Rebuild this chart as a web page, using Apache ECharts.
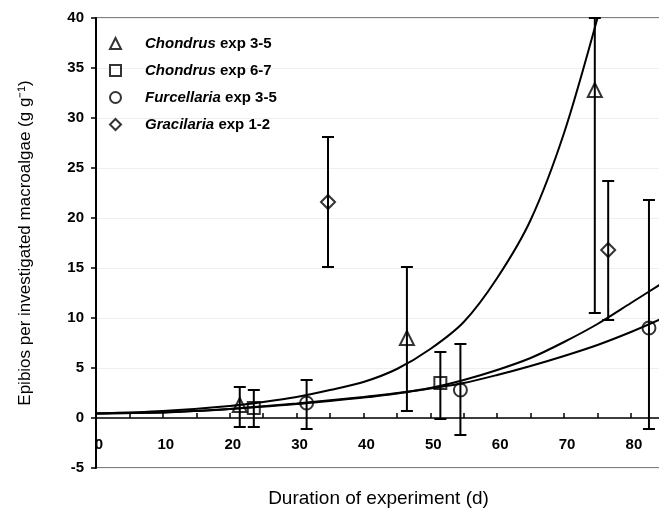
<!DOCTYPE html>
<html><head><meta charset="utf-8">
<script src="https://cdn.jsdelivr.net/npm/echarts@6/dist/echarts.min.js"></script>
<style>html,body{margin:0;padding:0;background:#fff}#c{width:659px;height:513px}</style>
</head><body><div id="c"></div>
<script>
// Chondrus exp 3-5 (triangles)
const chondrus35X  = [21.5, 46.5, 74.6];
const chondrus35Y  = [1.3, 8.0, 32.8];
const chondrus35Lo = [-0.9, 0.7, 10.5];
const chondrus35Hi = [3.1, 15.1, 40];
// Chondrus exp 6-7 (squares)
const chondrus67X  = [23.6, 51.5];
const chondrus67Y  = [1.0, 3.5];
const chondrus67Lo = [-0.9, -0.1];
const chondrus67Hi = [2.8, 6.6];
// Furcellaria exp 3-5 (circles)
const furcX  = [31.5, 54.5, 82.7];
const furcY  = [1.5, 2.8, 9.0];
const furcLo = [-1.1, -1.7, -1.1];
const furcHi = [3.8, 7.4, 21.8];
// Gracilaria exp 1-2 (diamonds)
const gracX  = [34.7, 76.6];
const gracY  = [21.6, 16.8];
const gracLo = [15.1, 9.8];
const gracHi = [28.1, 23.7];
// fitted curves
const curveSteepX = [0, 10, 20, 25, 30, 35, 40, 45, 50, 55, 60, 65, 70, 75];
const curveSteepY = [0.45, 0.7, 1.2, 1.6, 2.1, 2.8, 3.6, 4.9, 6.9, 9.6, 14.0, 19.8, 28.5, 40];
const curveMidX = [0, 10, 15, 20, 30, 40, 44, 50, 55, 60, 65, 70, 75, 80, 84.5];
const curveMidY = [0.45, 0.55, 0.7, 0.9, 1.45, 2.1, 2.4, 3.0, 3.8, 4.8, 6.0, 7.6, 9.4, 11.5, 13.4];
const curveLowX = [0, 10, 15, 20, 30, 40, 44, 50, 55, 60, 65, 70, 75, 80, 84.5];
const curveLowY = [0.45, 0.55, 0.7, 0.9, 1.4, 2.05, 2.35, 2.95, 3.5, 4.3, 5.2, 6.2, 7.3, 8.6, 9.9];

const names = ['Chondrus exp 3-5', 'Chondrus exp 6-7', 'Furcellaria exp 3-5', 'Gracilaria exp 1-2'];
const FONT = '"Liberation Sans", Arial, sans-serif';

const zip = (a, b) => a.map((v, i) => [v, b[i]]);
const zip3 = (a, b, c) => a.map((v, i) => [v, b[i], c[i]]);

function renderErr(params, api) {
  const x = api.value(0), lo = api.value(1), hi = api.value(2);
  const p1 = api.coord([x, hi]), p2 = api.coord([x, lo]);
  const w = 6, st = {stroke: '#000', lineWidth: 2};
  return {type: 'group', children: [
    {type: 'line', shape: {x1: p1[0], y1: p1[1], x2: p2[0], y2: p2[1]}, style: st},
    {type: 'line', shape: {x1: p1[0] - w, y1: p1[1], x2: p1[0] + w, y2: p1[1]}, style: st},
    {type: 'line', shape: {x1: p2[0] - w, y1: p2[1], x2: p2[0] + w, y2: p2[1]}, style: st}
  ]};
}
const errSeries = (data) => ({type: 'custom', renderItem: renderErr, data: data, z: 3, silent: true,
  encode: {x: 0, y: [1, 2]}});
const markStyle = {color: 'rgba(0,0,0,0)', borderColor: '#000', borderWidth: 2};
const scat = (name, symbol, size, data) => ({name: name, type: 'scatter', symbol: symbol, symbolSize: size,
  itemStyle: markStyle, data: data, z: 4});
const curve = (data) => ({type: 'line', data: data, showSymbol: false, smooth: 0.3, silent: true,
  lineStyle: {color: '#000', width: 2}, z: 2});

const chart = echarts.init(document.getElementById('c'));
chart.setOption({
  animation: false,
  grid: {left: 96, top: 18, right: -2, bottom: 45, show: true, borderColor: '#7f7f7f', borderWidth: 2,
    outerBoundsMode: 'none', containLabel: false},
  legend: {
    data: names, orient: 'vertical', left: 104, top: 31, itemWidth: 11, itemHeight: 11,
    itemGap: 12,
    formatter: n => n.replace(/^(\w+)/, '{i|$1}'),
    textStyle: {fontFamily: FONT, fontSize: 15, fontWeight: 'bold', color: '#000',
      rich: {i: {fontFamily: FONT, fontSize: 15, fontWeight: 'bold', fontStyle: 'italic', color: '#000',
        padding: [0, 0, 0, 19]}}}
  },
  xAxis: {
    type: 'value', min: 0, max: 84.5, interval: 5,
    name: 'Duration of experiment (d)', nameLocation: 'middle', nameGap: 21,
    nameTextStyle: {fontFamily: FONT, fontSize: 19, color: '#000'},
    axisLine: {onZero: true, lineStyle: {color: '#000', width: 1.5}},
    axisTick: {inside: true, length: 5, lineStyle: {color: '#000', width: 1.5}},
    axisLabel: {formatter: v => (v % 10 === 0 ? String(v) : ''), showMaxLabel: false, margin: -31,
      fontFamily: FONT, fontSize: 15, fontWeight: 'bold', color: '#000', padding: [0, 0, 0, 6]},
    splitLine: {show: false}
  },
  yAxis: {
    type: 'value', min: -5, max: 40, interval: 5,
    name: 'Epibios per investigated macroalgae (g g\u207B\u00B9)', nameLocation: 'middle', nameGap: 62,
    nameTextStyle: {fontFamily: FONT, fontSize: 17, color: '#000'},
    axisLine: {show: true, onZero: false, lineStyle: {color: '#000', width: 2}},
    axisTick: {show: true, length: 5, lineStyle: {color: '#000', width: 1.5}},
    axisLabel: {margin: 12, fontFamily: FONT, fontSize: 15, fontWeight: 'bold', color: '#000'},
    splitLine: {show: true, lineStyle: {color: '#efefef', width: 1}}
  },
  series: [
    curve(zip(curveSteepX, curveSteepY)),
    curve(zip(curveMidX, curveMidY)),
    curve(zip(curveLowX, curveLowY)),
    errSeries(zip3(chondrus35X, chondrus35Lo, chondrus35Hi)),
    errSeries(zip3(chondrus67X, chondrus67Lo, chondrus67Hi)),
    errSeries(zip3(furcX, furcLo, furcHi)),
    errSeries(zip3(gracX, gracLo, gracHi)),
    scat(names[0], 'triangle', 14, zip(chondrus35X, chondrus35Y)),
    scat(names[1], 'rect', 12, zip(chondrus67X, chondrus67Y)),
    scat(names[2], 'circle', 13, zip(furcX, furcY)),
    scat(names[3], 'diamond', 14, zip(gracX, gracY))
  ]
});
</script></body></html>
